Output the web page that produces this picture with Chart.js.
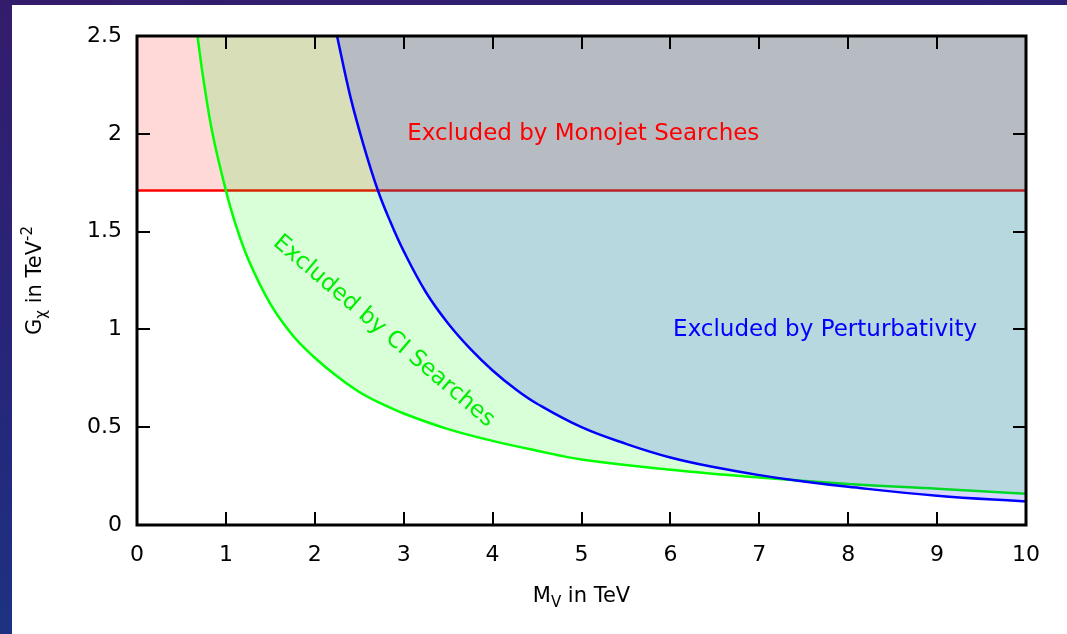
<!DOCTYPE html>
<html><head><meta charset="utf-8">
<script src="https://cdn.jsdelivr.net/npm/chart.js@4/dist/chart.umd.min.js"></script>
<style>
html,body{margin:0;padding:0;width:1067px;height:634px;overflow:hidden;}
body{background:linear-gradient(170deg,#341c6c 0%,#26267a 45%,#173a88 100%);position:relative;}
#panel{position:absolute;left:12px;top:5px;right:0;bottom:0;background:#fff;}
canvas{position:absolute;left:0;top:0;}
</style></head><body><div id="panel"></div><canvas id="c" width="1067" height="634"></canvas>
<script>
// ---- data ----
const ciMass     = [0.68, 0.75, 0.85, 1.0, 1.1, 1.25, 1.5, 1.75, 2.0, 2.25, 2.5, 2.75, 3.0, 3.5, 4.0, 4.5, 5.0, 6.0, 7.0, 8.0, 9.0, 10.0];
const ciCoupling = [2.5, 2.27, 2.0, 1.71, 1.55, 1.36, 1.13, 0.97, 0.855, 0.76, 0.68, 0.62, 0.57, 0.49, 0.43, 0.38, 0.335, 0.283, 0.243, 0.21, 0.185, 0.16];
const pertMass     = [2.25, 2.4, 2.55, 2.71, 2.85, 3.0, 3.25, 3.5, 3.75, 4.0, 4.27, 4.5, 5.0, 5.5, 6.0, 6.5, 7.0, 7.5, 8.0, 9.0, 10.0];
const pertCoupling = [2.5, 2.19, 1.94, 1.71, 1.55, 1.40, 1.19, 1.03, 0.90, 0.79, 0.69, 0.62, 0.50, 0.415, 0.345, 0.295, 0.255, 0.222, 0.195, 0.15, 0.12];
const monojetMass     = [0, 10];
const monojetCoupling = [1.71, 1.71];
const xTickValues = [0, 1, 2, 3, 4, 5, 6, 7, 8, 9, 10];
const yTickValues = [0, 0.5, 1, 1.5, 2, 2.5];
const yTickLabels = ['0', '0.5', '1', '1.5', '2', '2.5'];
const labelMonojet = 'Excluded by Monojet Searches';
const labelPert = 'Excluded by Perturbativity';
const labelCI = 'Excluded by CI Searches';

const pts = (xs, ys) => xs.map((v, i) => ({x: v, y: ys[i]}));
const FONT = '"DejaVu Sans", sans-serif';

const decorPlugin = {
  id: 'decor',
  afterDatasetsDraw(chart) {
    const {ctx, chartArea: a, scales: {x, y}} = chart;
    ctx.save();
    // annotations
    ctx.font = '23px ' + FONT;
    ctx.textAlign = 'center';
    ctx.textBaseline = 'middle';
    ctx.fillStyle = '#ff0000';
    ctx.fillText(labelMonojet, x.getPixelForValue(5.02), y.getPixelForValue(2.0));
    ctx.fillStyle = '#0000ff';
    ctx.fillText(labelPert, x.getPixelForValue(7.74), y.getPixelForValue(0.995));
    ctx.save();
    ctx.translate(x.getPixelForValue(2.775), y.getPixelForValue(0.99));
    ctx.rotate(40.4 * Math.PI / 180);
    ctx.fillStyle = '#00ee00';
    ctx.fillText(labelCI, 0, 0);
    ctx.restore();

    // inward ticks
    ctx.strokeStyle = '#000';
    ctx.lineWidth = 2;
    ctx.beginPath();
    x.ticks.forEach(t => {
      const px = Math.round(x.getPixelForValue(t.value));
      ctx.moveTo(px, a.bottom); ctx.lineTo(px, a.bottom - 13);
      ctx.moveTo(px, a.top); ctx.lineTo(px, a.top + 13);
    });
    y.ticks.forEach(t => {
      const py = Math.round(y.getPixelForValue(t.value));
      ctx.moveTo(a.left, py); ctx.lineTo(a.left + 13, py);
      ctx.moveTo(a.right, py); ctx.lineTo(a.right - 13, py);
    });
    ctx.stroke();
    // frame
    ctx.lineWidth = 3;
    ctx.strokeRect(a.left, a.top, a.right - a.left, a.bottom - a.top);

    // axis titles
    ctx.fillStyle = '#000';
    ctx.textAlign = 'left';
    ctx.textBaseline = 'alphabetic';
    const main = '21px ' + FONT, small = '15px ' + FONT;
    // x title: M_V in TeV
    ctx.font = main; const w1 = ctx.measureText('M').width; const w3 = ctx.measureText(' in TeV').width;
    ctx.font = small; const w2 = ctx.measureText('V').width;
    let sx = (a.left + a.right) / 2 - (w1 + w2 + w3) / 2;
    const by = 602;
    ctx.font = main; ctx.fillText('M', sx, by); sx += w1;
    ctx.font = small; ctx.fillText('V', sx, by + 5); sx += w2;
    ctx.font = main; ctx.fillText(' in TeV', sx, by);
    // y title: G_chi in TeV^-2
    ctx.save();
    ctx.translate(41, (a.top + a.bottom) / 2);
    ctx.rotate(-Math.PI / 2);
    ctx.font = main; const g1 = ctx.measureText('G').width; const g3 = ctx.measureText(' in TeV').width;
    ctx.font = small; const g2 = ctx.measureText('χ').width; const g4 = ctx.measureText('-2').width;
    let tx = -(g1 + g2 + g3 + g4) / 2;
    ctx.font = main; ctx.fillText('G', tx, 0); tx += g1;
    ctx.font = small; ctx.fillText('χ', tx, 5); tx += g2;
    ctx.font = main; ctx.fillText(' in TeV', tx, 0); tx += g3;
    ctx.font = small; ctx.fillText('-2', tx, -9);
    ctx.restore();
    ctx.restore();
  }
};

new Chart(document.getElementById('c'), {
  type: 'line',
  data: {
    datasets: [
      { label: 'Perturbativity', data: pts(pertMass, pertCoupling), borderColor: '#0000ff', borderWidth: 2.5,
        backgroundColor: 'rgba(0,0,255,0.153)', fill: 'end', pointRadius: 0, tension: 0.4 },
      { label: 'CI', data: pts(ciMass, ciCoupling), borderColor: '#00ff00', borderWidth: 2.5,
        backgroundColor: 'rgba(0,255,0,0.153)', fill: 'end', pointRadius: 0, tension: 0.4 },
      { label: 'Monojet', data: pts(monojetMass, monojetCoupling), borderColor: '#ff0000', borderWidth: 2.5,
        backgroundColor: 'rgba(255,0,0,0.153)', fill: 'end', pointRadius: 0 }
    ]
  },
  options: {
    responsive: false, animation: false, devicePixelRatio: 1,
    layout: { padding: { left: 0, top: 36, right: 41, bottom: 0 } },
    plugins: { legend: { display: false }, tooltip: { enabled: false } },
    scales: {
      x: {
        type: 'linear', min: 0, max: 10,
        afterBuildTicks: s => { s.ticks = xTickValues.map(v => ({value: v})); },
        afterFit: s => { s.height = 109; },
        grid: { display: false, drawTicks: false }, border: { display: false },
        ticks: { color: '#000', font: { family: FONT, size: 22 }, padding: 17, maxRotation: 0 }
      },
      y: {
        type: 'linear', min: 0, max: 2.5,
        afterBuildTicks: s => { s.ticks = yTickValues.map(v => ({value: v})); },
        afterFit: s => { s.width = 137; },
        grid: { display: false, drawTicks: false }, border: { display: false },
        ticks: { color: '#000', font: { family: FONT, size: 22 }, padding: 15,
                 callback: (v, i) => yTickLabels[i] }
      }
    }
  },
  plugins: [decorPlugin]
});
</script>
</body></html>
